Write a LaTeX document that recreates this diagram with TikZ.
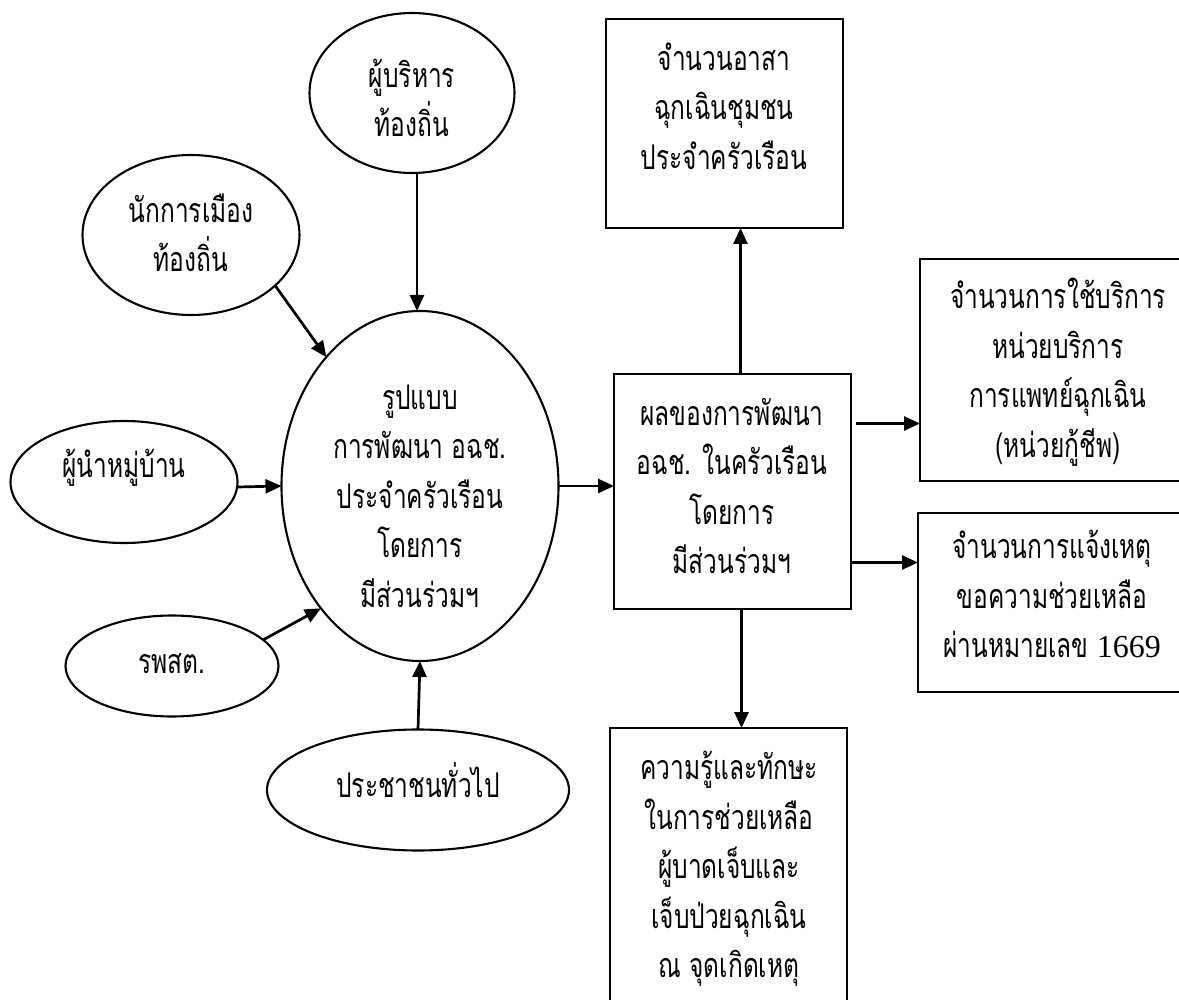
\documentclass[tikz,border=0pt]{standalone}
\usepackage{fontspec}
\usetikzlibrary{arrows.meta,shapes.geometric,calc}
\newfontfamily\thaifont[Script=Thai,FakeStretch=0.72]{Loma}
\newfontfamily\latserif{Liberation Serif}
\begin{document}
\begin{tikzpicture}[x=1pt,y=-1pt,
  ell/.style={ellipse,draw,line width=2.1pt,inner sep=0pt,outer sep=0pt},
  box/.style={rectangle,draw,line width=2.1pt,inner sep=0pt,outer sep=0pt,anchor=north west},
  txt/.style={align=center,inner sep=0pt,font=\thaifont\fontsize{34}{49.5}\selectfont},
  arr/.style={line width=2.7pt,-{Triangle[length=16pt,width=14pt]}}]
\path[use as bounding box,clip] (0,0) rectangle (1179,1000);
% ellipses
\node[ell,minimum width=205pt,minimum height=160pt] (exec) at (412,93) {};
\node[txt] (texec) at (412,98) {ผู้บริหาร\\ท้องถิ่น};
\node[ell,minimum width=217pt,minimum height=160pt] (pol) at (191,235) {};
\node[txt] (tpol) at (191,233) {นักการเมือง\\ท้องถิ่น};
\node[ell,minimum width=227pt,minimum height=122pt] (head) at (124,482) {};
\node[txt] (thead) at (124,468) {ผู้นำหมู่บ้าน};
\node[ell,minimum width=213pt,minimum height=101pt] (rpst) at (172,666) {};
\node[txt] (trpst) at (172,664) {รพสต.};
\node[ell,minimum width=302pt,minimum height=121pt] (people) at (418,790) {};
\node[txt] (tpeople) at (418,780) {ประชาชนทั่วไป};
\node[ell,minimum width=277pt,minimum height=350pt] (central) at (420,486) {};
\node[txt] (tcentral) at (420,496) {รูปแบบ\\การพัฒนา อฉช.\\ประจำครัวเรือน\\โดยการ\\มีส่วนร่วมฯ};
% boxes
\node[box,minimum width=237pt,minimum height=209pt] (vol) at (606,19) {};
\node[txt] (tvol) at (724,106) {จำนวนอาสา\\ฉุกเฉินชุมชน\\ประจำครัวเรือน};
\node[box,minimum width=237pt,minimum height=235pt] (result) at (614,374) {};
\node[txt] (tresult) at (732,486) {ผลของการพัฒนา\\อฉช. ในครัวเรือน\\โดยการ\\มีส่วนร่วมฯ};
\node[box,minimum width=270pt,minimum height=222pt] (ems) at (920,259) {};
\node[txt] (tems) at (1058,372) {จำนวนการใช้บริการ\\หน่วยบริการ\\การแพทย์ฉุกเฉิน\\(หน่วยกู้ชีพ)};
\node[box,minimum width=272pt,minimum height=179pt] (call) at (918,513) {};
\node[txt] (tcall) at (1052,594) {จำนวนการแจ้งเหตุ\\ขอความช่วยเหลือ\\ผ่านหมายเลข {\latserif\fontsize{32}{49.5}\selectfont 1669}};
\node[box,minimum width=237pt,minimum height=300pt] (skill) at (610,728) {};
\node[txt] (tskill) at (729,869) {ความรู้และทักษะ\\ในการช่วยเหลือ\\ผู้บาดเจ็บและ\\เจ็บป่วยฉุกเฉิน\\ณ จุดเกิดเหตุ};
% connectors
\draw[arr] ([xshift=5pt]exec.south) -- ([xshift=5pt]exec.south |- central.north);
\draw[arr] (pol.-31) -- (central.126);
\draw[arr] ([yshift=-5pt]head.east) -- (central.west);
\draw[arr] (rpst.16) -- (central.231);
\draw[arr] (people.north) -- (central.south);
\draw[arr] (central.east) -- (central.east -| result.west);
\draw[arr] ([xshift=8pt]result.north) -- ([xshift=8pt]result.north |- vol.south);
\coordinate (h1) at ([shift={(5pt,68pt)}]result.east);
\draw[arr] (h1) -- (h1 -| ems.west);
\coordinate (h2) at ([yshift=-71pt]result.east);
\draw[arr] (h2) -- (h2 -| call.west);
\draw[arr] ([xshift=9pt]result.south) -- ([xshift=9pt]result.south |- skill.north);
\end{tikzpicture}
\end{document}
